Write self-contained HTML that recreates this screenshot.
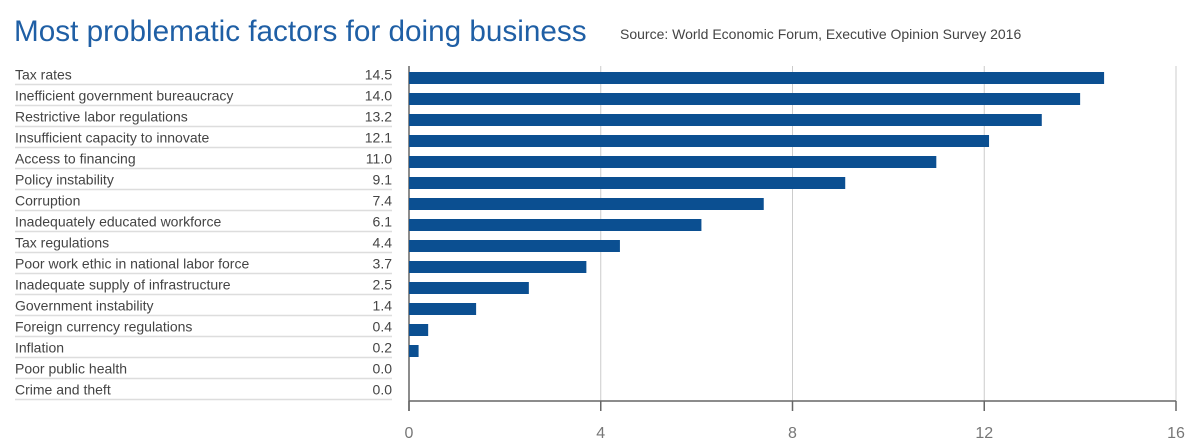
<!DOCTYPE html>
<html><head><meta charset="utf-8"><style>
body{margin:0;background:#fff;width:1198px;height:442px;overflow:hidden;font-family:"Liberation Sans",sans-serif;}
</style></head><body>
<svg id="c" width="1198" height="442">
<text x="14" y="41" font-size="29.7" fill="#1f5fa5">Most problematic factors for doing business</text>
<text x="620" y="39" font-size="14" fill="#444">Source: World Economic Forum, Executive Opinion Survey 2016</text>
</svg>
<script>
const categories=["Tax rates","Inefficient government bureaucracy","Restrictive labor regulations","Insufficient capacity to innovate","Access to financing","Policy instability","Corruption","Inadequately educated workforce","Tax regulations","Poor work ethic in national labor force","Inadequate supply of infrastructure","Government instability","Foreign currency regulations","Inflation","Poor public health","Crime and theft"];
const values=[14.5,14.0,13.2,12.1,11.0,9.1,7.4,6.1,4.4,3.7,2.5,1.4,0.4,0.2,0.0,0.0];
const ticks=[0,4,8,12,16];
const svg=document.getElementById('c');const NS="http://www.w3.org/2000/svg";
const x=v=>409+v*(1176-409)/16;
const y=i=>78+i*21;
function mk(t,a){const e=document.createElementNS(NS,t);for(const k in a)e.setAttribute(k,a[k]);svg.appendChild(e);return e;}
ticks.forEach(t=>{
 const g=mk('line',{x1:x(t),x2:x(t),y1:66,y2:411,stroke:t===0?'#666':'#ccc','stroke-width':t===0?1.5:1});
 
 
 const tk=mk('line',{x1:x(t),x2:x(t),y1:401,y2:411,stroke:'#666','stroke-width':1.5});
 
 
 const l=mk('text',{x:x(t),y:438,'font-size':16,fill:'#777','text-anchor':'middle'});l.textContent=t;
 
 
});
const ax=mk('line',{x1:409,x2:1176,y1:401,y2:401,stroke:'#666','stroke-width':1.5});


categories.forEach((c,i)=>{
 const s=mk('line',{x1:15,x2:392,y1:y(i)+6.5,y2:y(i)+6.5,stroke:'#ddd','stroke-width':1.5});
 
 
 const t=mk('text',{x:15,y:y(i)+1.5,'font-size':14,fill:'#444'});t.textContent=c;
 
 
 const v=mk('text',{x:392,y:y(i)+1.5,'font-size':14,fill:'#444','text-anchor':'end'});v.textContent=values[i].toFixed(1);
 
 
 if(values[i]>0){const b=mk('rect',{x:x(0),y:y(i)-6,width:x(values[i])-x(0),height:12,fill:'#0b4f91'});
 
 }
});
</script>
</body></html>
